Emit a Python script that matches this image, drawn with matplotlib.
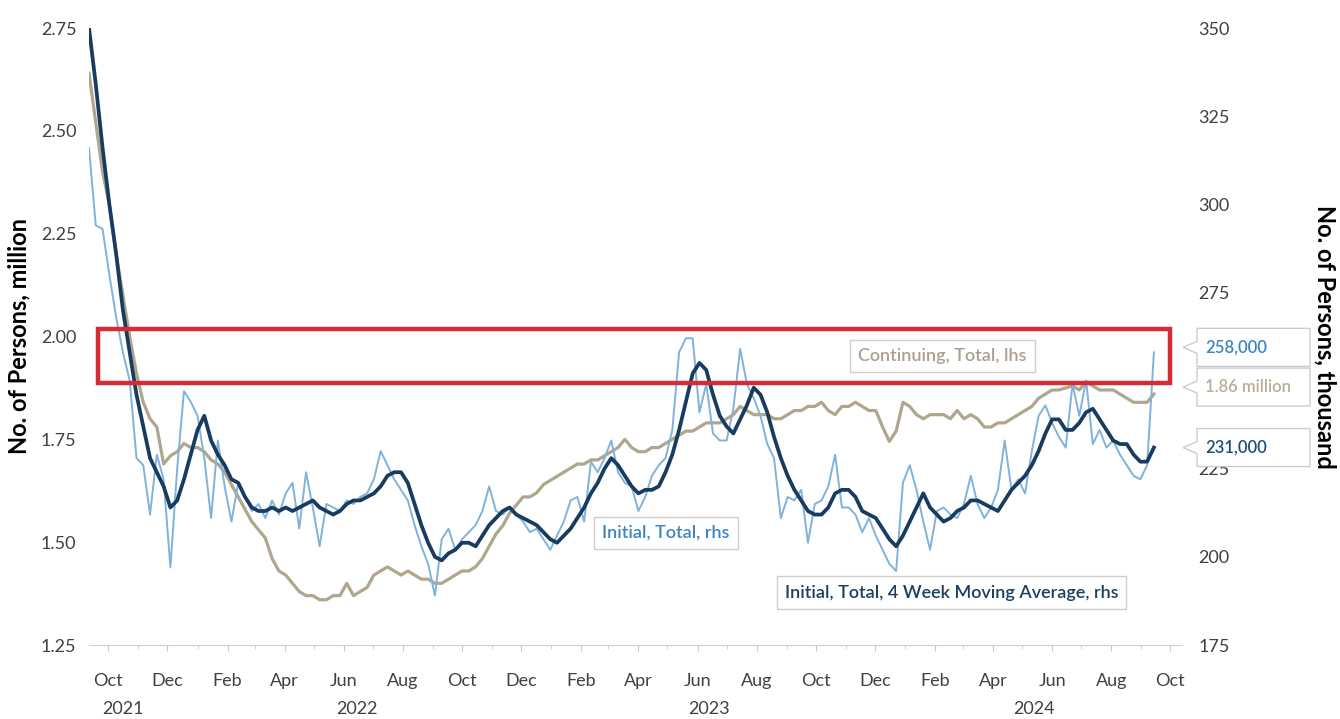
import numpy as np
import pandas as pd
import matplotlib
matplotlib.use("Agg")
import matplotlib.pyplot as plt
import matplotlib.dates as mdates
from matplotlib.patches import Rectangle, Polygon

plt.rcParams['font.family'] = ['Lato', 'DejaVu Sans']

# weekly jobless claims, week ending dates
weeks = pd.date_range('2021-09-11', periods=158, freq='7D')

# initial claims, thousand (rhs)
initial_k = [
    316, 294, 293, 280, 268, 258, 250, 228, 226, 212,
    229, 222, 197, 225, 247, 244, 240, 228, 211, 233,
    220, 210, 221, 217, 213, 215, 211, 216, 212, 218,
    221, 208, 224, 214, 203, 215, 214, 213, 216, 215,
    217, 218, 222, 230, 226, 222, 219, 216, 209, 203,
    198, 189, 205, 208, 202, 205, 207, 209, 213, 220,
    213, 212, 214, 212, 210, 207, 208, 205, 202, 206,
    210, 216, 217, 210, 227, 224, 228, 233, 224, 221,
    220, 213, 217, 223, 226, 228, 236, 258, 262, 262,
    241, 249, 235, 233, 233, 242, 259, 249, 245, 240,
    232, 228, 211, 217, 216, 219, 204, 215, 216, 220,
    229, 214, 214, 212, 207, 211, 206, 202, 198, 196,
    221, 226, 219, 210, 202, 213, 214, 212, 211, 215,
    223, 215, 211, 214, 219, 233, 219, 222, 218, 230,
    240, 243, 238, 234, 231, 249, 240, 250, 232, 236,
    231, 233, 229, 226, 223, 222, 226, 258,
]

# initial claims, 4 week moving average, thousand (rhs)
initial_ma_k = [
    350, 334, 316, 300, 286, 270, 258, 246, 237, 228,
    224, 220, 214, 216, 222, 229, 236, 240, 233, 229,
    226, 222, 221, 217, 214, 213, 213, 214, 213, 214,
    213, 214, 215, 216, 214, 213, 212, 213, 215, 216,
    216, 217, 218, 220, 223, 224, 224, 221, 215, 209,
    204, 200, 199, 201, 202, 204, 204, 203, 206, 209,
    211, 213, 214, 212, 211, 210, 209, 207, 205, 204,
    206, 208, 211, 214, 218, 221, 225, 228, 226, 223,
    220, 218, 219, 219, 220, 224, 229, 236, 244, 252,
    255, 253, 246, 240, 237, 235, 239, 243, 248, 246,
    241, 234, 228, 223, 219, 216, 213, 212, 212, 214,
    218, 219, 219, 217, 213, 212, 211, 208, 205, 203,
    206, 210, 214, 218, 214, 212, 210, 211, 213, 214,
    216, 216, 215, 214, 213, 216, 219, 221, 223, 226,
    230, 235, 239, 239, 236, 236, 238, 241, 242, 239,
    236, 233, 232, 232, 229, 227, 227, 231,
]

# continuing claims, million (lhs)
continuing_m = [
    2.64, 2.52, 2.40, 2.32, 2.20, 2.10, 2.00, 1.91, 1.84, 1.80,
    1.78, 1.69, 1.71, 1.72, 1.74, 1.73, 1.73, 1.72, 1.70, 1.69,
    1.67, 1.64, 1.61, 1.58, 1.55, 1.53, 1.51, 1.46, 1.43, 1.42,
    1.40, 1.38, 1.37, 1.37, 1.36, 1.36, 1.37, 1.37, 1.40, 1.37,
    1.38, 1.39, 1.42, 1.43, 1.44, 1.43, 1.42, 1.43, 1.42, 1.41,
    1.41, 1.40, 1.40, 1.41, 1.42, 1.43, 1.43, 1.44, 1.46, 1.49,
    1.52, 1.54, 1.57, 1.59, 1.61, 1.61, 1.62, 1.64, 1.65, 1.66,
    1.67, 1.68, 1.69, 1.69, 1.70, 1.70, 1.71, 1.72, 1.73, 1.75,
    1.73, 1.72, 1.72, 1.73, 1.73, 1.74, 1.75, 1.76, 1.77, 1.77,
    1.78, 1.79, 1.79, 1.79, 1.80, 1.81, 1.83, 1.82, 1.81, 1.81,
    1.81, 1.80, 1.80, 1.81, 1.82, 1.82, 1.83, 1.83, 1.84, 1.82,
    1.81, 1.83, 1.83, 1.84, 1.83, 1.82, 1.82, 1.78, 1.745, 1.77,
    1.84, 1.83, 1.81, 1.80, 1.81, 1.81, 1.81, 1.80, 1.82, 1.80,
    1.81, 1.80, 1.78, 1.78, 1.79, 1.79, 1.80, 1.81, 1.82, 1.83,
    1.85, 1.86, 1.87, 1.87, 1.875, 1.88, 1.87, 1.89, 1.88, 1.87,
    1.87, 1.87, 1.86, 1.85, 1.84, 1.84, 1.84, 1.86,
]

year_labels = ['2021', '2022', '2023', '2024']
year_pos = ['2021-10-16', '2022-06-15', '2023-06-13', '2024-05-13']

C_CONT = '#b0a68e'
C_INIT = '#80b3dc'
C_MA = '#183c60'
C_TEXT = '#404040'

W, H = 1340, 719
fig = plt.figure(figsize=(W / 100, H / 100), dpi=100)


def fx(px):
    return px / W


def fy(py):
    return 1 - py / H


ax = fig.add_axes([fx(89), fy(645), fx(1182) - fx(89), fy(28) - fy(645)])
ax2 = ax.twinx()

ax.plot(weeks, continuing_m, color=C_CONT, lw=2.3, zorder=2)
ax2.plot(weeks, initial_k, color=C_INIT, lw=1.4, zorder=2)
ax2.plot(weeks, initial_ma_k, color=C_MA, lw=2.7, zorder=3)

ax.set_xlim(pd.Timestamp('2021-09-11'), pd.Timestamp('2024-10-13'))
ax.set_ylim(1.25, 2.75)
ax2.set_ylim(175, 350)
ax.set_yticks(np.arange(1.25, 2.76, 0.25))
ax.yaxis.set_major_formatter(matplotlib.ticker.FormatStrFormatter('%.2f'))
rhs_ticks = np.arange(175, 351, 25)
ax2.set_yticks(rhs_ticks)
# 250 sits behind the value callouts
ax2.set_yticklabels(['' if t == 250 else str(t) for t in rhs_ticks])

ax.xaxis.set_major_locator(mdates.MonthLocator(bymonth=[2, 4, 6, 8, 10, 12]))
ax.xaxis.set_major_formatter(mdates.DateFormatter('%b'))
ax.xaxis.set_minor_locator(mdates.MonthLocator())
ax.tick_params(axis='x', which='major', length=4, color='#c8c8c8',
               labelsize=13, labelcolor=C_TEXT, pad=16)
ax.tick_params(axis='x', which='minor', length=3, color='#c8c8c8')
ax.tick_params(axis='y', length=0, labelsize=13, labelcolor=C_TEXT, pad=9)
ax2.tick_params(axis='y', length=0, labelsize=13, labelcolor=C_TEXT, pad=12)

for a in (ax, ax2):
    for s in ('top', 'left', 'right'):
        a.spines[s].set_visible(False)
ax2.spines['bottom'].set_visible(False)
ax.spines['bottom'].set_color('#d0d0d0')

for yr, d in zip(year_labels, year_pos):
    ax.annotate(yr, xy=(pd.Timestamp(d), 0), xycoords=('data', 'axes fraction'),
                xytext=(0, -46), textcoords='offset points', ha='center',
                va='center', fontsize=13, color=C_TEXT, annotation_clip=False)

ax.set_ylabel('No. of Persons, million', fontsize=17, fontweight='bold', color='black')
ax.yaxis.set_label_coords(-0.054, 0.5)
ax2.set_ylabel('No. of Persons, thousand', fontsize=17, fontweight='bold',
               color='black', rotation=270, va='center')
ax2.yaxis.set_label_coords(1.131, 0.5)

# highlight band around the latest readings
x0 = mdates.date2num(pd.Timestamp('2021-09-20'))
x1 = mdates.date2num(pd.Timestamp('2024-10-01'))
ax2.add_patch(Rectangle((x0, 1.887), x1 - x0, 0.131, transform=ax.transData,
                        fill=False, ec='#d42b37', lw=3.2, zorder=6))
ax.set_xlim(pd.Timestamp('2021-09-11'), pd.Timestamp('2024-10-13'))
ax2.set_ylim(175, 350)

box = dict(boxstyle='square,pad=0.45', fc='white', ec='#cfcfcf', lw=1)
ax2.text(0.781, 0.469, 'Continuing, Total, lhs', transform=ax2.transAxes,
         ha='center', va='center', fontsize=13, fontweight='semibold',
         color='#a9a18e', bbox=box, zorder=7)
ax2.text(0.528, 0.1815, 'Initial, Total, rhs', transform=ax2.transAxes,
         ha='center', va='center', fontsize=13, fontweight='semibold',
         color='#3d84c0', bbox=box, zorder=7)
ax2.text(0.789, 0.085, 'Initial, Total, 4 Week Moving Average, rhs',
         transform=ax2.transAxes, ha='center', va='center', fontsize=13,
         fontweight='semibold', color='#1d3e60', bbox=box, zorder=7)


def callout(text, cy, color):
    bx0, bx1 = 1197, 1310
    tip = 1183
    pts = [(bx0, cy - 19), (bx1, cy - 19), (bx1, cy + 19), (bx0, cy + 19),
           (bx0, cy + 6), (tip, cy), (bx0, cy - 6)]
    fig.add_artist(Polygon([(fx(a), fy(b)) for a, b in pts], closed=True,
                           transform=fig.transFigure, fc='white', ec='#cccccc',
                           lw=1, zorder=5))
    fig.text(fx(bx0 + 8), fy(cy), text, ha='left', va='center', fontsize=12,
             fontweight='semibold', color=color, zorder=6)


def rhs_px(v):
    return H - ax2.transData.transform((0, v))[1]


def lhs_px(v):
    return H - ax.transData.transform((0, v))[1]


callout(f"{initial_k[-1] * 1000:,.0f}", rhs_px(initial_k[-1]) - 5, '#3d84c0')
callout(f"{continuing_m[-1]:.2f} million", lhs_px(continuing_m[-1]) - 7, '#b9ae98')
callout(f"{initial_ma_k[-1] * 1000:,.0f}", rhs_px(initial_ma_k[-1]), '#1d4e78')

fig.savefig('out.png', dpi=100, facecolor='white')
